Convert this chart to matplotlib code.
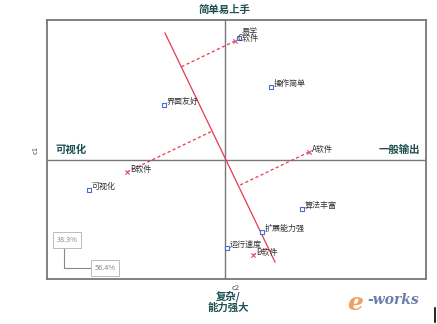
import numpy as np
import matplotlib.pyplot as plt

plt.rcParams['font.family'] = ['Noto Sans CJK SC', 'DejaVu Sans']

# attribute points (blue squares)
attr_names = ["易学", "操作简单", "界面友好", "可视化", "算法丰富", "扩展能力强", "运行速度"]
attr_x = [0.14, 0.46, -0.61, -1.36, 0.77, 0.37, 0.02]
attr_y = [1.22, 0.73, 0.55, -0.30, -0.49, -0.72, -0.88]

# software points (red crosses)
soft_names = ["A软件", "B软件", "C软件", "D软件"]
soft_x = [0.84, -0.98, 0.10, 0.28]
soft_y = [0.08, -0.12, 1.19, -0.95]

# red axis line ends
line_x = [-0.60, 0.50]
line_y = [1.27, -1.02]

pct1 = "38.3%"
pct2 = "56.4%"

teal = "#1d4f50"
grey = "#777777"

fig = plt.figure(figsize=(4.37, 3.24), dpi=100)
ax = fig.add_axes([47/437, 45/324, 379/437, 259/324])
ax.set_xlim(-1.78, 2.01)
ax.set_ylim(-1.19, 1.40)
ax.set_xticks([])
ax.set_yticks([])
for s in ax.spines.values():
    s.set_color(grey)
    s.set_linewidth(1.3)

ax.axhline(0, color=grey, lw=1.0)
ax.axvline(0, color=grey, lw=1.0)

# red line and perpendicular projections
ax.plot(line_x, line_y, color="#e8384f", lw=0.9)
d = np.array([line_x[1] - line_x[0], line_y[1] - line_y[0]])
p0 = np.array([line_x[0], line_y[0]])
for x, y in zip(soft_x, soft_y):
    p = np.array([x, y])
    t = np.dot(p - p0, d) / np.dot(d, d)
    foot = p0 + t * d
    ax.plot([x, foot[0]], [y, foot[1]], color="#e8384f", lw=0.9, ls=(0, (2.5, 2)))

ax.scatter(attr_x, attr_y, marker="s", s=12, facecolors="white",
           edgecolors="#4a6fd0", linewidths=0.8, zorder=3)
ax.scatter(soft_x, soft_y, marker="x", s=10, color="#e0507a", linewidths=0.8, zorder=3)

for n, x, y in zip(attr_names, attr_x, attr_y):
    dy = 5 if n == "易学" else 2.5
    ax.annotate(n, (x, y), xytext=(2, dy), textcoords="offset points",
                fontsize=5.8, color="#333333", va="center", ha="left")
for n, x, y in zip(soft_names, soft_x, soft_y):
    ax.annotate(n, (x, y), xytext=(2, 2), textcoords="offset points",
                fontsize=5.8, color="#333333", va="center", ha="left")

ax.text(-1.70, 0.10, "可视化", fontsize=7.5,
        fontweight="bold", color=teal, ha="left", va="center")
ax.text(1.95, 0.10, "一般输出", fontsize=7.5,
        fontweight="bold", color=teal, ha="right", va="center")

# inertia boxes
bbox = dict(boxstyle="square,pad=0.5", fc="white", ec="#bbbbbb", lw=0.7)
fig.text(67/437, 1 - 240/324, pct1, fontsize=5.3, color="#888888", ha="center", va="center",
         bbox=bbox, zorder=3)
fig.text(105/437, 1 - 268/324, pct2, fontsize=5.3, color="#888888", ha="center", va="center",
         bbox=bbox, zorder=3)
fig.add_artist(plt.Line2D([64/437, 64/437, 92/437], [1 - 247/324, 1 - 268/324, 1 - 268/324],
                          color="#888888", lw=0.8, zorder=1))

# axis titles
fig.text(225/437, 1 - 10/324, "简单易上手", fontsize=7.5, fontweight="bold",
         color=teal, ha="center", va="center")
fig.text(228/437, 1 - 302/324, "复杂/\n能力强大", fontsize=7.5, fontweight="bold",
         color=teal, ha="center", va="center", linespacing=1.1)
fig.text(36/437, 1 - 150/324, "c1", fontsize=5.5, color="#555555", rotation=90,
         ha="center", va="center")
fig.text(236/437, 1 - 288/324, "c2", fontsize=5.5, color="#555555", ha="center", va="center")

# logo
fig.text(355/437, 1 - 303/324, "e", fontsize=18, fontstyle="italic", fontweight="bold",
         color="#f0a060", ha="center", va="center", family="DejaVu Serif")
fig.text(393/437, 1 - 300/324, "-works", fontsize=10, fontstyle="italic", fontweight="bold",
         color="#6a7fa8", ha="center", va="center", family="DejaVu Serif")
fig.add_artist(plt.Line2D([435/437, 435/437], [1 - 308/324, 1 - 322/324], color="black", lw=1.2))

fig.savefig("out.png", dpi=100)
